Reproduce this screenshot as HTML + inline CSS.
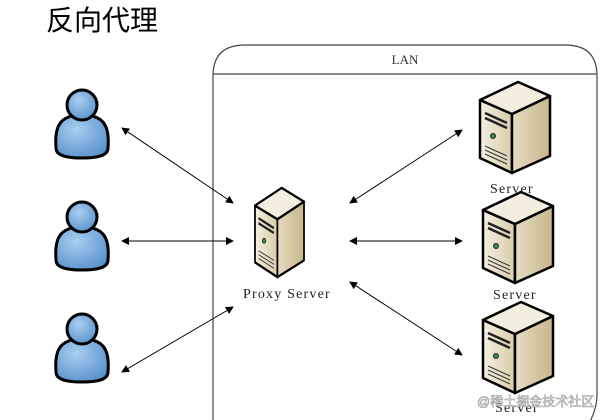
<!DOCTYPE html>
<html><head><meta charset="utf-8"><style>
html,body{margin:0;padding:0;background:#fff;width:602px;height:420px;overflow:hidden}
</style></head><body>
<svg width="602" height="420" viewBox="0 0 602 420" xmlns="http://www.w3.org/2000/svg">
<defs>
<linearGradient id="fr" x1="0" x2="1"><stop offset="0" stop-color="#f4efe0"/><stop offset="1" stop-color="#d8ccaa"/></linearGradient>
<linearGradient id="sd" x1="0" x2="1"><stop offset="0" stop-color="#e6dcc0"/><stop offset="1" stop-color="#c6b68c"/></linearGradient>
<radialGradient id="pb" cx="0.4" cy="0.35" r="0.7"><stop offset="0" stop-color="#a9cdf0"/><stop offset="1" stop-color="#5a93cc"/></radialGradient>
<marker id="ah" markerWidth="8" markerHeight="8" refX="7" refY="4" orient="auto-start-reverse" markerUnits="userSpaceOnUse"><path d="M0,0 L8,4 L0,8 z" fill="#000"/></marker>
<g id="srv">
<polygon points="0,22 32,36 32,95 0,80" fill="url(#fr)" stroke="#000" stroke-width="2.5" stroke-linejoin="round"/>
<polygon points="32,36 70,18 70,78 32,95" fill="url(#sd)" stroke="#000" stroke-width="2.5" stroke-linejoin="round"/>
<polygon points="0,22 38,4 70,18 32,36" fill="#f3eedf" stroke="#000" stroke-width="2.5" stroke-linejoin="round"/>
<path d="M5,35 L27,45 M5,40 L27,50" stroke="#222" stroke-width="2.5"/>
<circle cx="13" cy="58" r="2.5" fill="#3a8a5a" stroke="#222"/>
<path d="M5,68 L27,78 M5,72 L27,82 M5,76 L27,86" stroke="#333" stroke-width="1"/>
</g>
<g id="per">
<path d="M4,60 C2,35 10,28 30,26 C50,28 58,35 56,60 C56,66 50,70 30,70 C10,70 4,66 4,60 z" fill="url(#pb)" stroke="#000" stroke-width="3"/>
<circle cx="30" cy="17" r="15" fill="url(#pb)" stroke="#000" stroke-width="3"/>
</g>
</defs>
<text x="46" y="30" font-family="'Liberation Sans','Noto Sans CJK SC',sans-serif" font-size="28" fill="#000">反向代理</text>
<path d="M213,430 L213,76 Q213,45 245,45 L565,45 Q597,45 597,76 L597,395 Q597,412 585,430" fill="none" stroke="#444" stroke-width="1.2"/>
<path d="M213,74 L597,74" stroke="#444" stroke-width="1.2"/>
<text x="405" y="64" text-anchor="middle" font-family="'Liberation Serif',serif" font-size="13" fill="#333">LAN</text>
<use href="#per" x="52" y="88"/>
<use href="#per" x="52" y="200"/>
<use href="#per" x="52" y="312"/>
<g stroke="#000" stroke-width="1" marker-start="url(#ah)" marker-end="url(#ah)">
<line x1="122" y1="128" x2="233" y2="203"/>
<line x1="122" y1="241" x2="233" y2="241"/>
<line x1="122" y1="372" x2="233" y2="307"/>
<line x1="350" y1="203" x2="462" y2="130"/>
<line x1="350" y1="241" x2="462" y2="241"/>
<line x1="350" y1="282" x2="462" y2="355"/>
</g>
<use href="#srv" transform="translate(255,184) scale(0.7,0.98)"/>
<use href="#srv" transform="translate(480,78)"/>
<use href="#srv" transform="translate(483,188)"/>
<use href="#srv" transform="translate(483,298)"/>
<g font-family="'Liberation Serif',serif" font-size="14" fill="#222" letter-spacing="1.2">
<text x="243" y="298">Proxy Server</text>
<text x="490" y="193">Server</text>
<text x="493" y="299">Server</text>
<text x="495" y="412">Server</text>
</g>
<text x="477" y="406" font-family="'Liberation Sans','Noto Sans CJK SC',sans-serif" font-size="13" fill="#fff" stroke="#999" stroke-width="0.6">@稀土掘金技术社区</text>
</svg>
</body></html>
